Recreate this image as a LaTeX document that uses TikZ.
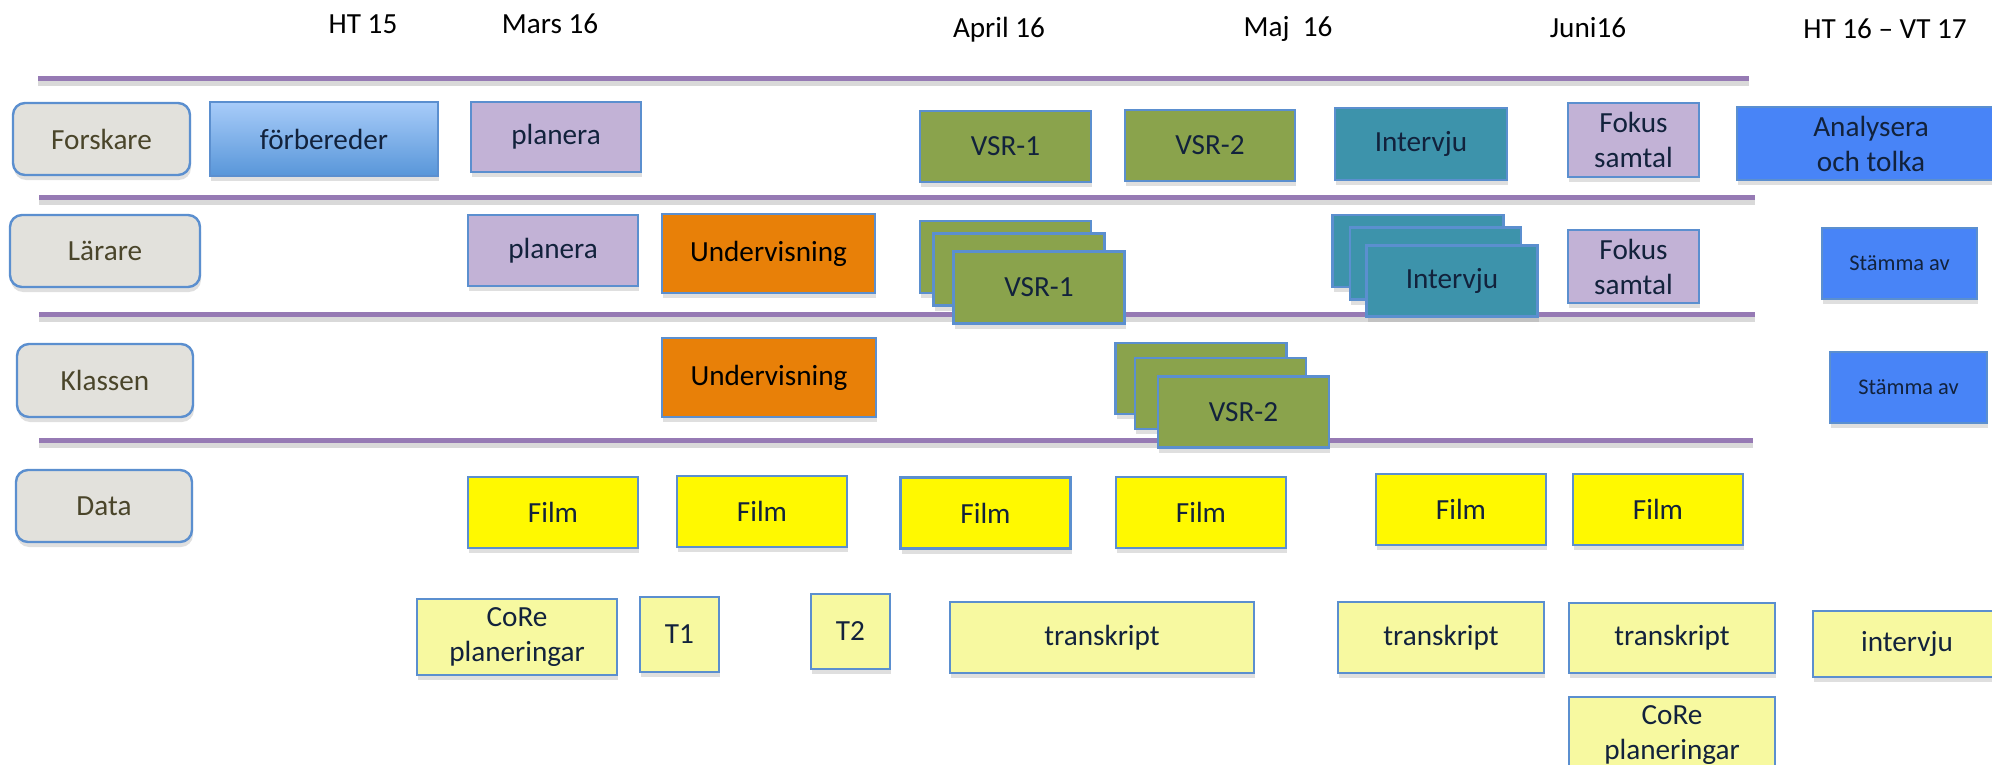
\documentclass[tikz,border=0pt]{standalone}
\usepackage{fontspec}
\setmainfont{Carlito}
\usepackage{xcolor}
\usepackage{tikz}
\usetikzlibrary{shadows}
\definecolor{lanepurple}{RGB}{150,122,180}
\definecolor{edgeblue}{RGB}{91,143,207}
\definecolor{rolegrey}{RGB}{226,225,220}
\definecolor{roletext}{RGB}{74,69,42}
\definecolor{boxtext}{RGB}{18,34,60}
\definecolor{prepTop}{RGB}{168,204,249}
\definecolor{prepBot}{RGB}{88,150,217}
\definecolor{planlilac}{RGB}{194,178,214}
\definecolor{vsrgreen}{RGB}{138,163,76}
\definecolor{intteal}{RGB}{61,147,171}
\definecolor{teachorange}{RGB}{232,128,8}
\definecolor{analblue}{RGB}{72,132,247}
\definecolor{filmyellow}{RGB}{255,249,0}
\definecolor{docyellow}{RGB}{247,249,160}

\tikzset{
  x=0.5pt, y=-0.5pt,
  lane/.style={lanepurple, line width=2.5pt},
  laneshade/.style={black!15, line width=2.5pt},
  month/.style={anchor=base, font=\fontsize{14.6}{17.5}\selectfont},
  sz/.style 2 args={minimum width=#1*0.5pt, minimum height=#2*0.5pt},
  role/.style={draw=edgeblue, line width=1.2pt, fill=rolegrey, rounded corners=6pt,
    text=roletext, font=\fontsize{14.6}{17.5}\selectfont,
    drop shadow={shadow xshift=0.5pt, shadow yshift=-2.5pt, opacity=0.25}},
  box/.style={draw=edgeblue, line width=1.2pt, text=boxtext, align=center, inner sep=0pt,
    font=\fontsize{14.6}{17.5}\selectfont,
    drop shadow={shadow xshift=0.5pt, shadow yshift=-2.5pt, opacity=0.25}},
  smalltext/.style={font=\fontsize{11.2}{13}\selectfont},
}

\begin{document}
\begin{tikzpicture}
  \useasboundingbox (0,0) rectangle (1992,765);

  % tidsaxel
  \node (ht15) at (363,34) [month] {HT 15};
  \node (mars) at (550,34) [month] {Mars 16};
  \node (april) at (999,38) [month] {April 16};
  \node (maj) at (1288,37) [month] {Maj\ \ 16};
  \node (juni) at (1588,38) [month] {Juni16};
  \node (htvt) at (1885,39) [month] {HT 16 – VT 17};

  % skiljelinjer
  \foreach \y/\xa/\xb [count=\i] in {79/38/1749, 197/39/1755, 314/39/1755, 440/39/1753}{
    \coordinate (la\i) at (\xa,\y);
    \coordinate (lb\i) at (\xb,\y);
    \draw[laneshade] ([yshift=-2.5pt]la\i) -- ([yshift=-2.5pt]lb\i);
    \draw[lane] (la\i) -- (lb\i);
  }

  % roller
  \node (forskare) at (101.5,139) [role, sz={177}{72}] {Forskare};
  \node (larare) at (105,251) [role, sz={190}{72}] {Lärare};
  \node (klassen) at (105,380.5) [role, sz={176}{73}] {Klassen};
  \node (data) at (104,506) [role, sz={176}{72}] {Data};

  % Forskare
  \node (forb) at (324,139) [box, sz={228}{74}, top color=prepTop, bottom color=prepBot] {förbereder};
  \node (planF) at (556,137) [box, sz={170}{70}, fill=planlilac] {planera};
  \node (vsrF1) at (1005.5,146.5) [box, sz={171}{71}, fill=vsrgreen] {VSR-1};
  \node (vsrF2) at (1210,145.5) [box, sz={170}{71}, fill=vsrgreen] {VSR-2};
  \node (intF) at (1421,144) [box, sz={172}{72}, fill=intteal] {Intervju};
  \node (fokF) at (1633.5,140) [box, sz={131}{74}, fill=planlilac] {Fokus\\samtal};
  \node (anal) at (1871,143.5) [box, sz={268}{73}, fill=analblue] {Analysera\\och tolka};

  % Lärare
  \node (planL) at (553,250.5) [box, sz={170}{71}, fill=planlilac] {planera};
  \node (undL) at (768.5,253.5) [box, sz={213}{79}, fill=teachorange] {\color{black}Undervisning};
  \node (vsrLa) at (1005.5,257) [box, sz={171}{72}, fill=vsrgreen] {};
  \node (vsrLb) at (1019,269.5) [box, sz={171}{72}, fill=vsrgreen] {};
  \node (vsrL) at (1039,287.5) [box, sz={171}{72}, fill=vsrgreen] {VSR-1};
  \node (intLa) at (1418,251) [box, sz={171}{72}, fill=intteal] {};
  \node (intLb) at (1435.5,263.5) [box, sz={171}{72}, fill=intteal] {};
  \node (intL) at (1452,281) [box, sz={171}{71}, fill=intteal] {Intervju};
  \node (fokL) at (1633.5,266.5) [box, sz={131}{73}, fill=planlilac] {Fokus\\samtal};
  \node (stamL) at (1899.5,263.5) [box, sz={155}{71}, fill=analblue, smalltext] {Stämma av};

  % Klassen
  \node (undK) at (769,377.5) [box, sz={214}{79}, fill=teachorange] {\color{black}Undervisning};
  \node (vsrKa) at (1201,378.5) [box, sz={171}{71}, fill=vsrgreen] {};
  \node (vsrKb) at (1220.5,393.5) [box, sz={171}{71}, fill=vsrgreen] {};
  \node (vsrK) at (1243.5,412) [box, sz={171}{71}, fill=vsrgreen] {VSR-2};
  \node (stamK) at (1908.5,387.5) [box, sz={157}{71}, fill=analblue, smalltext] {Stämma av};

  % Data
  \node (film1) at (553,512.5) [box, sz={170}{71}, fill=filmyellow] {Film};
  \node (film2) at (762,511.5) [box, sz={170}{71}, fill=filmyellow] {Film};
  \node (film3) at (985.5,513) [box, sz={170}{71}, fill=filmyellow] {Film};
  \node (film4) at (1201,512.5) [box, sz={170}{71}, fill=filmyellow] {Film};
  \node (film5) at (1461,509.5) [box, sz={170}{71}, fill=filmyellow] {Film};
  \node (film6) at (1658,509.5) [box, sz={170}{71}, fill=filmyellow] {Film};

  \node (core1) at (517,637) [box, sz={200}{76}, fill=docyellow] {CoRe\\planeringar};
  \node (t1) at (679.5,634.5) [box, sz={79}{75}, fill=docyellow] {T1};
  \node (t2) at (850.5,631.5) [box, sz={79}{75}, fill=docyellow] {T2};
  \node (trans1) at (1102,637.5) [box, sz={304}{71}, fill=docyellow] {transkript};
  \node (trans2) at (1441,637.5) [box, sz={206}{71}, fill=docyellow] {transkript};
  \node (trans3) at (1672,638) [box, sz={206}{70}, fill=docyellow] {transkript};
  \node (intv) at (1907,644) [box, sz={188}{66}, fill=docyellow] {intervju};
  \node (core2) at (1672,735) [box, sz={206}{76}, fill=docyellow] {CoRe\\planeringar};
\end{tikzpicture}
\end{document}
